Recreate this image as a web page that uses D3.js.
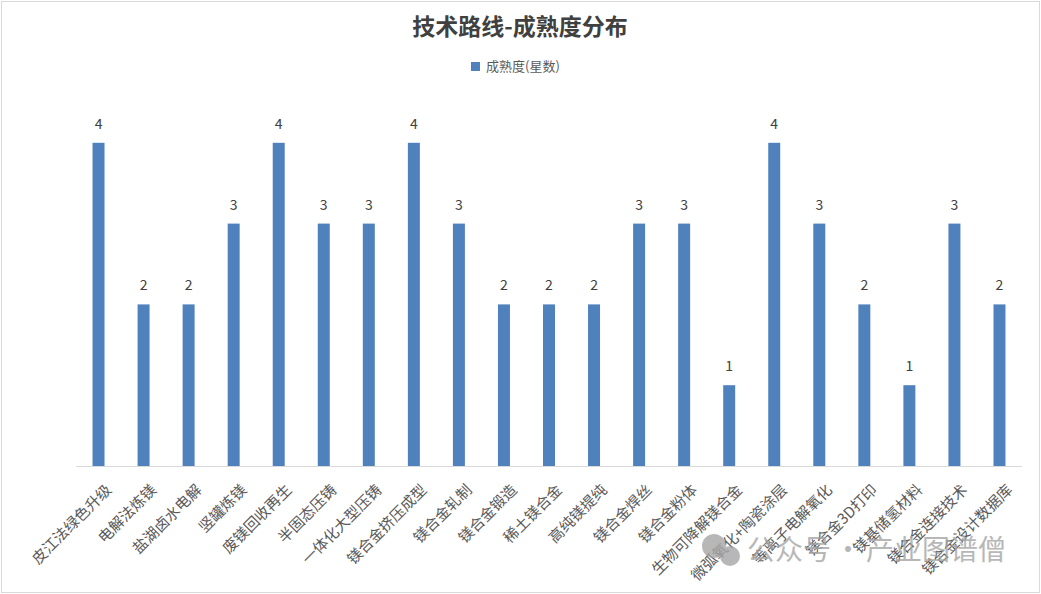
<!DOCTYPE html>
<html>
<head>
<meta charset="utf-8">
<script src="https://cdn.jsdelivr.net/npm/d3@7"></script>
<style>
  body { margin: 0; background: #fff; }
  text { font-family: "Noto Sans CJK SC", "Noto Sans", sans-serif; }
</style>
</head>
<body>
<div id="chart"></div>
<script>
// data
var categories = ["皮江法绿色升级", "电解法炼镁", "盐湖卤水电解", "竖罐炼镁", "废镁回收再生",
	"半固态压铸", "一体化大型压铸", "镁合金挤压成型", "镁合金轧制", "镁合金锻造",
	"稀土镁合金", "高纯镁提纯", "镁合金焊丝", "镁合金粉体", "生物可降解镁合金",
	"微弧氧化+陶瓷涂层", "等离子电解氧化", "镁合金3D打印", "镁基储氢材料",
	"镁合金连接技术", "镁合金设计数据库"];
var maturity = [4, 2, 2, 3, 4, 3, 3, 4, 3, 2, 2, 2, 3, 3, 1, 4, 3, 2, 1, 3, 2];
var seriesName = "成熟度(星数)";
var chartTitle = "技术路线-成熟度分布";

var size = {w: 1041, h: 594};
var plot = {left: 76, right: 1022, top: 62, bottom: 466};

var svg = d3.select("#chart").append("svg")
	.attr("width", size.w)
	.attr("height", size.h);

// outer frame
svg.append("rect")
	.attr("x", 1.5).attr("y", 1.5)
	.attr("width", 1038).attr("height", 591)
	.style("fill", "#fff")
	.style("stroke", "#d9d9d9");

var x = d3.scaleBand()
	.domain(categories)
	.range([plot.left, plot.right])
	.paddingInner(0.734)
	.paddingOuter(0.367);

var y = d3.scaleLinear()
	.domain([0, 5])
	.range([plot.bottom, plot.top]);

// title
svg.append("text")
	.attr("x", 520).attr("y", 35)
	.attr("text-anchor", "middle")
	.style("font-size", "23px")
	.style("font-weight", "bold")
	.style("fill", "#404040")
	.text(chartTitle);

// legend
var legend = svg.append("g").attr("transform", "translate(471,62)");
legend.append("rect")
	.attr("width", 9).attr("height", 9)
	.style("fill", "#4f81bd");
legend.append("text")
	.attr("x", 15).attr("y", 5)
	.attr("dominant-baseline", "middle")
	.style("font-size", "13px")
	.style("fill", "#595959")
	.text(seriesName);

// bars
svg.append("g").selectAll("rect")
	.data(maturity)
	.enter().append("rect")
	.attr("x", function(d, i){ return x(categories[i]); })
	.attr("y", function(d){ return y(d); })
	.attr("width", x.bandwidth())
	.attr("height", function(d){ return y(0) - y(d); })
	.style("fill", "#4f81bd");

// value labels
svg.append("g").selectAll("text")
	.data(maturity)
	.enter().append("text")
	.attr("x", function(d, i){ return x(categories[i]) + x.bandwidth() / 2; })
	.attr("y", function(d){ return y(d) - 14; })
	.attr("text-anchor", "middle")
	.style("font-size", "14px")
	.style("fill", "#404040")
	.text(function(d){ return d; });

// category axis
var xAxis = svg.append("g")
	.attr("transform", "translate(0," + plot.bottom + ")")
	.call(d3.axisBottom(x).tickSize(0).tickPadding(0));
xAxis.select(".domain")
	.attr("d", "M" + plot.left + ",0.5H" + plot.right)
	.style("stroke", "#d9d9d9");
xAxis.selectAll("text")
	.attr("x", 0).attr("y", 0).attr("dy", null)
	.attr("text-anchor", "end")
	.attr("dominant-baseline", "middle")
	.attr("transform", "translate(11,22) rotate(-45)")
	.style("font-size", "15px")
	.style("font-family", "\"Noto Sans CJK SC\", sans-serif")
	.style("fill", "#595959");

// watermark
var wm = svg.append("g").style("opacity", 0.8);
wm.append("circle").attr("cx", 714).attr("cy", 546).attr("r", 12).style("fill", "#a6a6a6");
wm.append("circle").attr("cx", 730).attr("cy", 556).attr("r", 10).style("fill", "#a6a6a6");
wm.append("text")
	.attr("x", 747).attr("y", 560)
	.style("font-size", "28px")
	.style("fill", "#a6a6a6")
	.text("公众号");
wm.append("text")
	.attr("x", 848).attr("y", 560)
	.attr("text-anchor", "middle")
	.style("font-size", "28px")
	.style("fill", "#a6a6a6")
	.text("·");
wm.append("text")
	.attr("x", 866).attr("y", 560)
	.style("font-size", "28px")
	.style("fill", "#a6a6a6")
	.text("产业图谱僧");
</script>
</body>
</html>
